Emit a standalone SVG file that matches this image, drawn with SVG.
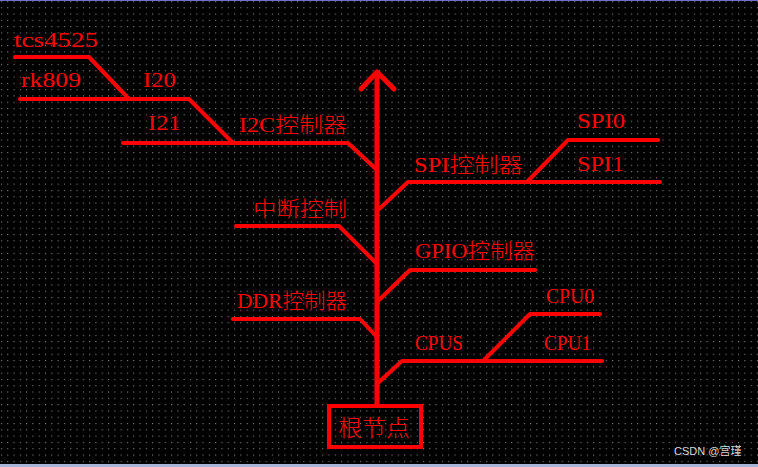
<svg xmlns="http://www.w3.org/2000/svg" width="758" height="467" viewBox="0 0 758 467">
<defs>
<pattern id="dots" x="0" y="0" width="6.3" height="6.3" patternUnits="userSpaceOnUse">
<rect x="1" y="1" width="1" height="1" fill="#a0a0a0"/>
</pattern>
</defs>
<style>
.ln{fill:none;stroke:#ff0000;stroke-width:4;stroke-linecap:round;stroke-linejoin:round}
.t{fill:#ff0000;font-family:"Liberation Serif","Noto Sans CJK SC",serif;font-size:21px;font-weight:300}
.wm{fill:#d8d8d8;font-family:"Liberation Sans","Noto Sans CJK SC",sans-serif;font-size:11px}
</style>
<rect width="758" height="467" fill="#000"/>
<rect width="758" height="464" fill="url(#dots)"/>
<line x1="0" y1="0.5" x2="758" y2="0.5" stroke="#7070d0" stroke-width="1"/>
<rect x="0" y="464" width="758" height="3" fill="#a8b4d8"/>
<g id="connectors">
<line class="ln" x1="377" y1="74" x2="377" y2="405" style="stroke-width:5"/>
<polyline class="ln" points="361,89 377,72 394,89" style="stroke-width:5"/>
<polyline class="ln" points="15,57 89,57 129,99"/>
<polyline class="ln" points="20,99 189,99 233,143"/>
<polyline class="ln" points="123,143 348,143 377,170"/>
<polyline class="ln" points="377,211 408,182 660,182"/>
<polyline class="ln" points="527,182 568,140 658,140"/>
<polyline class="ln" points="236,226 339,226 376,263"/>
<polyline class="ln" points="377,302 410,270 535,270"/>
<polyline class="ln" points="233,319 360,319 376,336"/>
<polyline class="ln" points="378,383 402,361 602,361"/>
<polyline class="ln" points="483,361 530,314 600,314"/>
</g>
<g id="tcs4525"><text class="t" x="14" y="47" textLength="84" lengthAdjust="spacingAndGlyphs">tcs4525</text></g>
<g id="rk809"><text class="t" x="21" y="87" textLength="60" lengthAdjust="spacingAndGlyphs">rk809</text></g>
<g id="I20"><text class="t" x="143" y="87" textLength="33" lengthAdjust="spacingAndGlyphs">I20</text></g>
<g id="I21"><text class="t" x="148" y="130" textLength="33" lengthAdjust="spacingAndGlyphs">I21</text></g>
<g id="i2c"><text class="t" x="239" y="132" textLength="108" lengthAdjust="spacingAndGlyphs">I2C控制器</text></g>
<g id="spi"><text class="t" x="414" y="172" textLength="109" lengthAdjust="spacingAndGlyphs">SPI控制器</text></g>
<g id="spi0"><text class="t" x="577" y="128" textLength="48" lengthAdjust="spacingAndGlyphs">SPI0</text></g>
<g id="spi1"><text class="t" x="577" y="171" textLength="47" lengthAdjust="spacingAndGlyphs">SPI1</text></g>
<g id="irq"><text class="t" x="253" y="216" textLength="94" lengthAdjust="spacingAndGlyphs">中断控制</text></g>
<g id="gpio"><text class="t" x="415" y="258" textLength="120" lengthAdjust="spacingAndGlyphs">GPIO控制器</text></g>
<g id="ddr"><text class="t" x="237" y="308" textLength="110" lengthAdjust="spacingAndGlyphs">DDR控制器</text></g>
<g id="cpus"><text class="t" x="415" y="350" textLength="48" lengthAdjust="spacingAndGlyphs">CPUS</text></g>
<g id="cpu0"><text class="t" x="546" y="303" textLength="48" lengthAdjust="spacingAndGlyphs">CPU0</text></g>
<g id="cpu1"><text class="t" x="544" y="350" textLength="47" lengthAdjust="spacingAndGlyphs">CPU1</text></g>
<g id="root">
<rect x="329" y="406" width="92" height="41" fill="none" stroke="#ff0000" stroke-width="4"/>
<text class="t" x="338" y="436" textLength="72" lengthAdjust="spacingAndGlyphs" style="font-size:23px">根节点</text>
</g>
<text class="wm" x="674" y="455">CSDN @宫瑾</text>
</svg>
